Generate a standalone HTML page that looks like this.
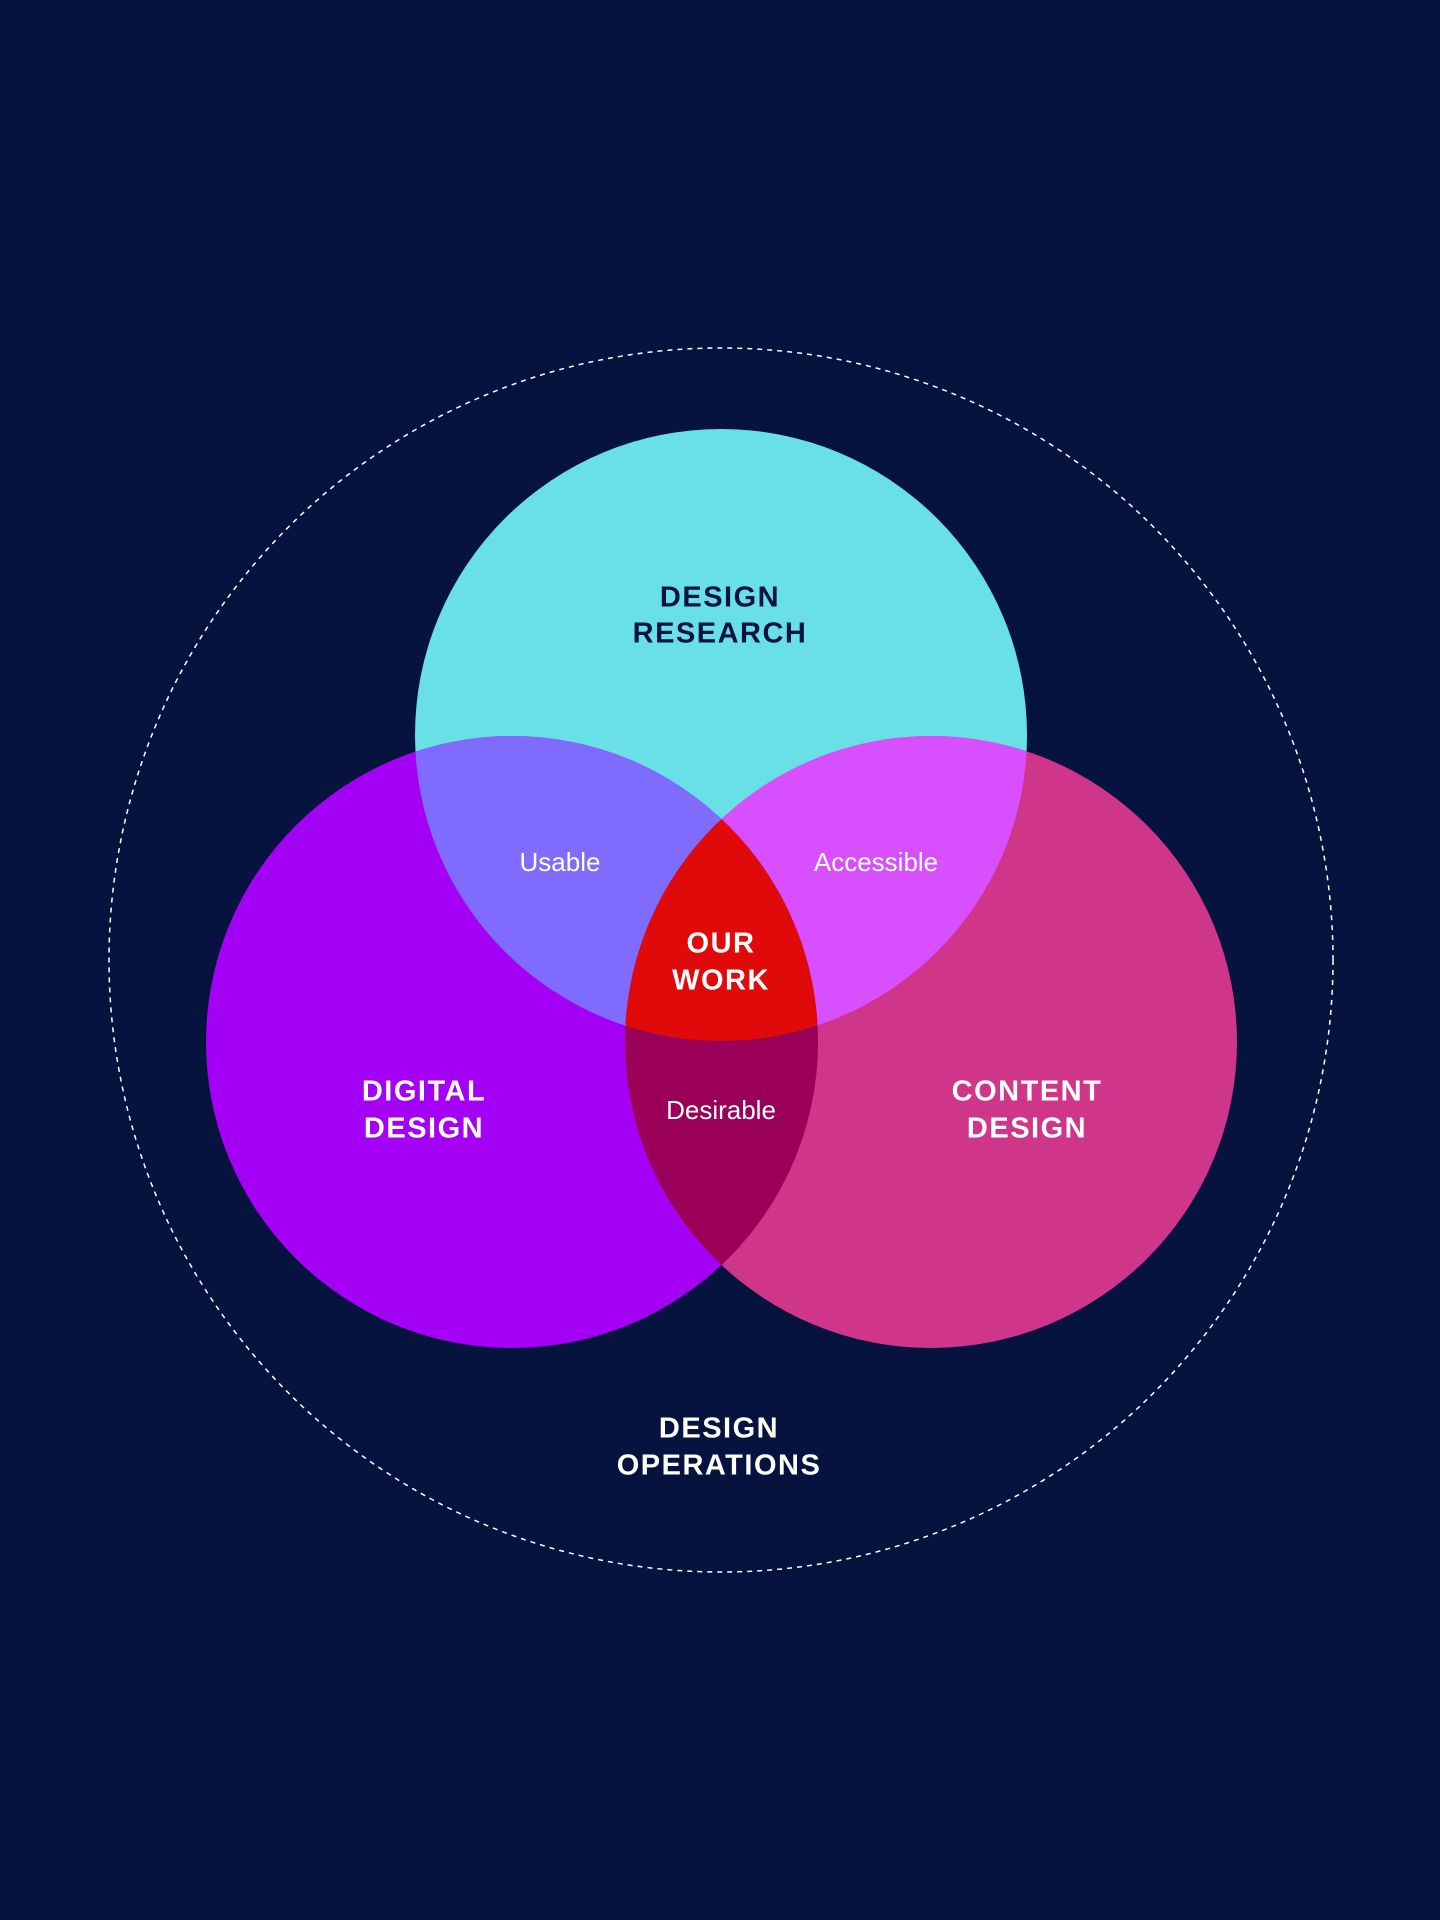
<!DOCTYPE html>
<html><head><meta charset="utf-8"><style>
html,body{margin:0;padding:0;background:#06133F;}
svg{display:block}
text{font-family:"Liberation Sans",sans-serif;text-anchor:middle;dominant-baseline:middle}
.b{font-weight:bold;font-size:29px;letter-spacing:1.5px}
.r{font-size:26px}
</style></head><body>
<svg width="1440" height="1920" viewBox="0 0 1440 1920" xmlns="http://www.w3.org/2000/svg">
<defs>
<clipPath id="cT"><circle cx="721" cy="735" r="306"/></clipPath>
<clipPath id="cL"><circle cx="512" cy="1042" r="306"/></clipPath>
<clipPath id="cR"><circle cx="931" cy="1042" r="306"/></clipPath>
</defs>
<rect width="1440" height="1920" fill="#06133F"/>
<circle cx="721" cy="960" r="612" fill="none" stroke="#ffffff" stroke-width="1.5" stroke-dasharray="5,5"/>
<circle cx="721" cy="735" r="306" fill="#68E0E6"/>
<circle cx="512" cy="1042" r="306" fill="#A400F5"/>
<circle cx="931" cy="1042" r="306" fill="#CF3589"/>
<g clip-path="url(#cT)"><circle cx="512" cy="1042" r="306" fill="#806BFF"/><circle cx="931" cy="1042" r="306" fill="#D84FFF"/></g>
<g clip-path="url(#cL)"><circle cx="931" cy="1042" r="306" fill="#9A0057"/></g>
<g clip-path="url(#cL)"><g clip-path="url(#cR)"><circle cx="721" cy="735" r="306" fill="#E00A0A"/></g></g>
<text class="b" x="720" y="599" fill="#06133F">DESIGN</text>
<text class="b" x="720" y="635" fill="#06133F">RESEARCH</text>
<text class="r" x="560" y="864" fill="#fff">Usable</text>
<text class="r" x="876" y="864" fill="#fff">Accessible</text>
<text class="b" x="721" y="945" fill="#fff">OUR</text>
<text class="b" x="721" y="982" fill="#fff">WORK</text>
<text class="b" x="424" y="1093" fill="#fff">DIGITAL</text>
<text class="b" x="424" y="1130" fill="#fff">DESIGN</text>
<text class="b" x="1027" y="1093" fill="#fff">CONTENT</text>
<text class="b" x="1027" y="1130" fill="#fff">DESIGN</text>
<text class="r" x="721" y="1112" fill="#fff">Desirable</text>
<text class="b" x="719" y="1430" fill="#fff">DESIGN</text>
<text class="b" x="719" y="1467" fill="#fff">OPERATIONS</text>
</svg>
</body></html>
